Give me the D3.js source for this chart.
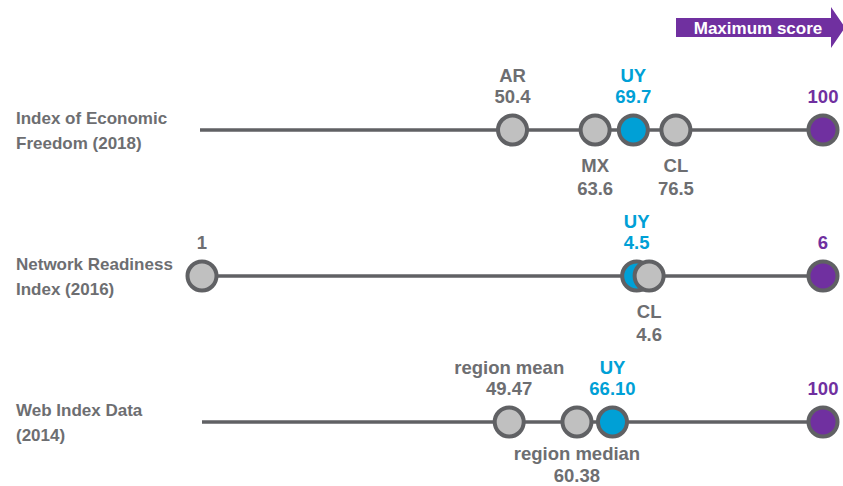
<!DOCTYPE html>
<html>
<head>
<meta charset="utf-8">
<script src="https://cdn.jsdelivr.net/npm/d3@7"></script>
<style>
  html, body { margin: 0; padding: 0; background: #ffffff; }
  svg { display: block; font-family: "Liberation Sans", Arial, sans-serif; font-weight: bold; }
</style>
</head>
<body>
<svg id="chart" width="843" height="486"></svg>
<script>
// ---- Data ----
const rowTitles = [
  ["Index of Economic", "Freedom (2018)"],
  ["Network Readiness", "Index (2016)"],
  ["Web Index Data", "(2014)"]
];
const rowDomains = [[0, 100], [1, 6], [0, 100]];
const rowDecimals = [1, 1, 2];

const econNames  = ["AR", "MX", "UY", "CL", ""];
const econValues = [50.4, 63.6, 69.7, 76.5, 100];
const econKinds  = ["grey", "grey", "uy", "grey", "max"];
const econSides  = ["above", "below", "above", "below", "above"];

const nriNames  = ["", "UY", "CL", ""];
const nriValues = [1, 4.5, 4.6, 6];
const nriKinds  = ["grey", "uy", "grey", "max"];
const nriSides  = ["above", "above", "below", "above"];

const webNames  = ["region mean", "region median", "UY", ""];
const webValues = [49.47, 60.38, 66.10, 100];
const webKinds  = ["grey", "grey", "uy", "max"];
const webSides  = ["above", "below", "above", "above"];

const arrowLabel = "Maximum score";

// ---- Styles ----
const GREY_TEXT = "#6d6e71";
const LINE = "#606164";
const FILL = { grey: "#c0c0c0", uy: "#00a0d6", max: "#7030a0" };
const TEXTC = { grey: GREY_TEXT, uy: "#00a0d6", max: "#7030a0" };

const rows = [
  { names: econNames, values: econValues, kinds: econKinds, sides: econSides },
  { names: nriNames, values: nriValues, kinds: nriKinds, sides: nriSides },
  { names: webNames, values: webValues, kinds: webKinds, sides: webSides }
].map((r, i) => ({
  title: rowTitles[i],
  domain: rowDomains[i],
  decimals: rowDecimals[i],
  points: r.values.map((v, j) => ({ name: r.names[j], value: v, kind: r.kinds[j], side: r.sides[j] }))
}));

const svg = d3.select("#chart");
const H = 486;
const yRow = d3.scalePoint().domain(d3.range(rows.length)).range([130, 422]);
const xRanges = [[197, 823], [202, 823], [202, 823]];

rows.forEach((row, i) => {
  const y = yRow(i);
  const x = d3.scaleLinear().domain(row.domain).range(xRanges[i]);
  const g = svg.append("g");

  // row title
  const t = g.append("text").attr("x", 16).attr("fill", GREY_TEXT).attr("font-size", 17);
  t.append("tspan").attr("x", 16).attr("y", y - 6).text(row.title[0]);
  t.append("tspan").attr("x", 16).attr("y", y + 19).text(row.title[1]);

  // baseline
  g.append("line")
    .attr("x1", Math.max(200, x.range()[0])).attr("x2", x.range()[1])
    .attr("y1", y).attr("y2", y)
    .attr("stroke", LINE).attr("stroke-width", 3.5);

  const fmt = v => Number.isInteger(v) ? String(v) : v.toFixed(row.decimals);

  // circles
  g.selectAll("circle").data(row.points).join("circle")
    .attr("cx", d => x(d.value)).attr("cy", y).attr("r", 14.5)
    .attr("fill", d => FILL[d.kind])
    .attr("stroke", LINE).attr("stroke-width", 4);

  // labels
  const nearBottom = y + 70 > H;
  row.points.forEach(d => {
    const lines = d.name ? [d.name, fmt(d.value)] : [fmt(d.value)];
    const baseY = d.side === "above"
      ? (lines.length === 2 ? [y - 48, y - 27] : [y - 27])
      : (nearBottom ? [y + 38, H - 4] : [y + 42, y + 65]);
    lines.forEach((s, k) => {
      g.append("text")
        .attr("x", x(d.value)).attr("y", baseY[k])
        .attr("text-anchor", "middle")
        .attr("font-size", 18.5)
        .attr("fill", TEXTC[d.kind])
        .text(s);
    });
  });
});

// Maximum score arrow
const arrow = svg.append("g");
arrow.append("path")
  .attr("d", "M676,18 L831,18 L831,7 L845,27.5 L831,48 L831,37 L676,37 Z")
  .attr("fill", "#7030a0");
arrow.append("text")
  .attr("x", 758).attr("y", 34)
  .attr("text-anchor", "middle")
  .attr("font-size", 17)
  .attr("fill", "#ffffff")
  .text(arrowLabel);
</script>
</body>
</html>
